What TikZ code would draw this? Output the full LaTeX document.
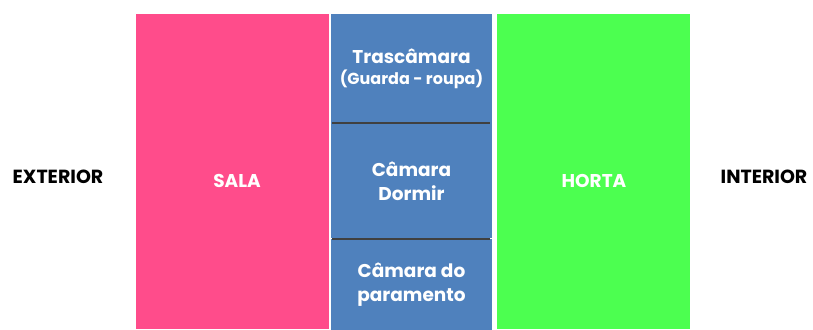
\documentclass[tikz,border=0pt]{standalone}
\usepackage{fontspec}
\setmainfont{Poppins}
\usepackage{tikz}
\usetikzlibrary{positioning}

\definecolor{salapink}{RGB}{255,76,139}
\definecolor{camblue}{RGB}{79,129,189}
\definecolor{hortagreen}{RGB}{76,255,80}
\definecolor{wallgray}{RGB}{64,64,64}

\begin{document}
\begin{tikzpicture}[x=1pt, y=-1pt,
room/.style = {rectangle, inner sep=0pt, text=white, align=center,
  font=\fontsize{18.5}{24}\selectfont\bfseries},
side/.style = {inner sep=0pt, font=\fontsize{19}{24}\selectfont\bfseries}]

\useasboundingbox (0,0) rectangle (813,329);

% rooms
\node [room, fill=salapink, minimum width=193, minimum height=315] (sala) at (232.5,171.5) {};
\node [room] (salatxt) at (237,181) {SALA};

\node [room, fill=camblue, minimum width=161, minimum height=109] (tras) at (411.5,68.5)
  {Trascâmara\\[-3pt]{\fontsize{16}{19}\selectfont (Guarda - roupa)}};
\node [room, fill=camblue, minimum width=161, minimum height=115] (dormir) [below=0pt of tras] {Câmara\\Dormir};
\node [room, fill=camblue, minimum width=161, minimum height=91] (paramento) [below=0pt of dormir] {Câmara do\\paramento};

\node [room, fill=hortagreen, minimum width=193, minimum height=315] (horta) at (593.5,171.5) {};
\node [room] (hortatxt) at (594,181) {HORTA};

% walls between the chambers
\draw [wallgray, line width=2pt] ([xshift=1pt]tras.south west) -- ([xshift=-2pt]tras.south east);
\draw [wallgray, line width=2pt] ([xshift=1pt]dormir.south west) -- ([xshift=-2pt]dormir.south east);

% outside labels
\node [side] (ext) at (58,177) {EXTERIOR};
\node [side] (int) at (764,177) {INTERIOR};
\end{tikzpicture}
\end{document}
